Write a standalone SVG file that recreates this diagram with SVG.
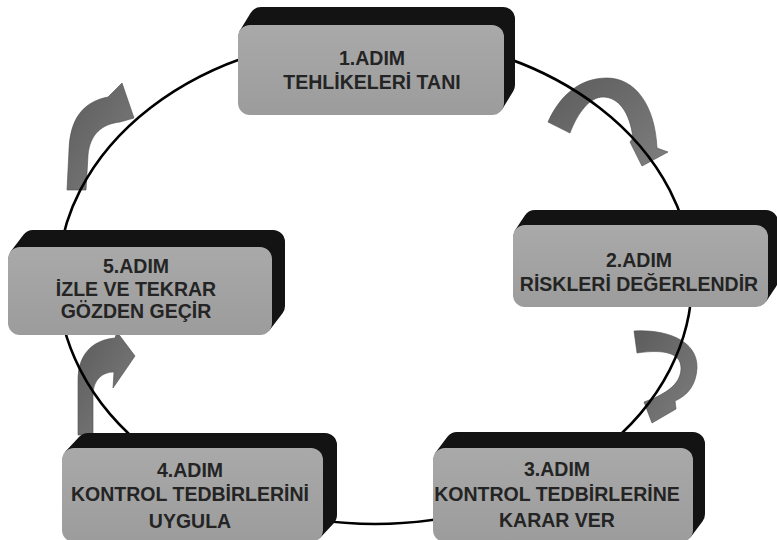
<svg xmlns="http://www.w3.org/2000/svg" width="777" height="540" viewBox="0 0 777 540">
  <defs>
    <linearGradient id="arrowFill" x1="0" y1="0" x2="1" y2="1">
      <stop offset="0" stop-color="#5c5c5c"/>
      <stop offset="1" stop-color="#7e7e7e"/>
    </linearGradient>
    <linearGradient id="faceFill" x1="0" y1="0" x2="0" y2="1">
      <stop offset="0" stop-color="#a9a9a9"/>
      <stop offset="1" stop-color="#9c9c9c"/>
    </linearGradient>
    <style>
      .depth { fill: #131313; }
      .face { fill: url(#faceFill); }
      .label { font-family: "Liberation Sans", Arial, sans-serif; font-weight: bold; font-size: 19.5px; fill: #242424; text-anchor: middle; }
      .curl { fill: url(#arrowFill); stroke: #4e4e4e; stroke-width: 0.6; }
      .cycle { fill: none; stroke: #000; stroke-width: 2.6; }
    </style>
  </defs>
  <rect width="777" height="540" fill="#fff"/>

  <!-- curved step arrows and the cycle ring -->
  <g id="connectors">
    <path class="curl" d="M548,122 C560,95 580,78 607,78 C635,78 655,105 657,148 L668,152 L642,166 L630,142 L633,138 C630,112 618,97 603,97 C590,97 578,112 570,133 Z"/>
    <path class="curl" d="M634,331 C665,329 698,340 697,368 C696,385 688,395 675,401 L676,409 L652,423 L644,402 L652,399 C668,392 681,383 681,368 C681,353 664,349 637,353 Z"/>
    <path class="curl" d="M78,435 L78,380 C78,355 92,340 115,338 L117,332 L135,356 L113,388 L114,372 C102,372 93,380 93,395 L93,435 Z"/>
    <path class="curl" d="M67,190 L69,150 C70,120 82,102 108,97 L122,83 L134,118 L120,122 C102,124 90,134 88,155 L86,190 Z"/>
    <ellipse class="cycle" cx="375" cy="280" rx="317" ry="244"/>
  </g>

  <g id="step1">
    <path class="depth" d="M238,103 L238,37 L239.76,30.74 L250.76,12.74 A12,12 0 0 1 261,7 L503,7 A12,12 0 0 1 515,19 L515,85 A12,12 0 0 1 513.24,91.26 L502.24,109.26 L250,115 Z"/>
    <rect class="face" x="238" y="25" width="266" height="90" rx="12"/>
    <text class="label" x="372" y="65">1.ADIM</text>
    <text class="label" x="372" y="89">TEHLİKELERİ TANI</text>
  </g>

  <g id="step2">
    <path class="depth" d="M513,295 L513,237 L515.02,230.34 L525.02,215.34 A12,12 0 0 1 535,210 L766,210 A12,12 0 0 1 778,222 L778,280 A12,12 0 0 1 775.98,286.66 L765.98,301.66 L525,307 Z"/>
    <rect class="face" x="513" y="225" width="255" height="82" rx="12"/>
    <text class="label" x="639" y="267">2.ADIM</text>
    <text class="label" x="639" y="291">RİSKLERİ DEĞERLENDİR</text>
  </g>

  <g id="step3">
    <path class="depth" d="M433,530 L433,460 L435.4,452.8 L447.4,436.8 A12,12 0 0 1 457,432 L693,432 A12,12 0 0 1 705,444 L705,514 A12,12 0 0 1 702.6,521.2 L690.6,537.2 L445,542 Z"/>
    <rect class="face" x="433" y="448" width="260" height="94" rx="12"/>
    <text class="label" x="557" y="476">3.ADIM</text>
    <text class="label" x="557" y="501">KONTROL TEDBİRLERİNE</text>
    <text class="label" x="557" y="527">KARAR VER</text>
  </g>

  <g id="step4">
    <path class="depth" d="M62,530 L62,460 L65.23,451.81 L79.23,436.81 A12,12 0 0 1 88,433 L325,433 A12,12 0 0 1 337,445 L337,515 A12,12 0 0 1 333.77,523.19 L319.77,538.19 L74,542 Z"/>
    <rect class="face" x="62" y="448" width="261" height="94" rx="12"/>
    <text class="label" x="190" y="477">4.ADIM</text>
    <text class="label" x="190" y="501">KONTROL TEDBİRLERİNİ</text>
    <text class="label" x="190" y="528">UYGULA</text>
  </g>

  <g id="step5">
    <path class="depth" d="M8,323 L8,259 L10.47,251.71 L23.47,234.71 A12,12 0 0 1 33,230 L273,230 A12,12 0 0 1 285,242 L285,306 A12,12 0 0 1 282.53,313.29 L269.53,330.29 L20,335 Z"/>
    <rect class="face" x="8" y="247" width="264" height="88" rx="12"/>
    <text class="label" x="136" y="273">5.ADIM</text>
    <text class="label" x="136" y="296">İZLE VE TEKRAR</text>
    <text class="label" x="136" y="318">GÖZDEN GEÇİR</text>
  </g>
</svg>
